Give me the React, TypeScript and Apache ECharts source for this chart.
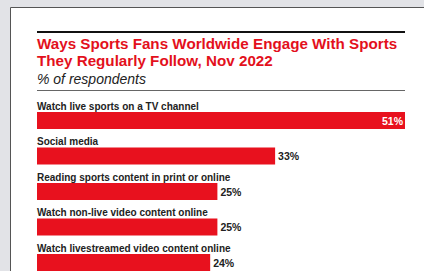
import React, { useEffect, useRef } from "react";
import * as echarts from "echarts";

const categories = [
  "Watch live sports on a TV channel",
  "Social media",
  "Reading sports content in print or online",
  "Watch non-live video content online",
  "Watch livestreamed video content online",
];
const values = [51, 33, 25, 25, 24];
const titleLines = [
  "Ways Sports Fans Worldwide Engage With Sports",
  "They Regularly Follow, Nov 2022",
];
const subtitle = "% of respondents";

const RED = "#e8111e";
const FONT = "Liberation Sans, Arial, sans-serif";

export default function App() {
  const ref = useRef<HTMLDivElement>(null);
  useEffect(() => {
    if (!ref.current) return;
    const chart = echarts.init(ref.current, undefined, { renderer: "svg" });
    chart.setOption({
      animation: false,
      backgroundColor: "#ffffff",
      grid: { left: 37, width: 368, top: 102.75, height: 177.5, containLabel: false },
      xAxis: { type: "value", min: 0, max: 51, show: false },
      yAxis: { type: "category", data: categories, inverse: true, show: false },
      graphic: [
        { type: "rect", shape: { x: 0, y: 0, width: 424, height: 7 }, style: { fill: "#e2e3e7" }, z: 10 },
        { type: "rect", shape: { x: 0, y: 0, width: 10, height: 320 }, style: { fill: "#e2e3e7" }, z: 10 },
        { type: "line", shape: { x1: 10.5, y1: 7.5, x2: 10.5, y2: 320 }, style: { stroke: "#555", lineWidth: 1 }, z: 11 },
        { type: "line", shape: { x1: 10.5, y1: 7.5, x2: 424, y2: 7.5 }, style: { stroke: "#555", lineWidth: 1 }, z: 11 },
        { type: "rect", shape: { x: 37, y: 31, width: 368, height: 2 }, style: { fill: "#111" }, z: 11 },
        { type: "line", shape: { x1: 37, y1: 90.5, x2: 405, y2: 90.5 }, style: { stroke: "#666", lineWidth: 1 }, z: 11 },
        {
          type: "text", x: 37, y: 43.5, z: 11,
          style: { text: titleLines[0], fill: "#e3101c", font: `bold 15.2px ${FONT}`, verticalAlign: "middle", align: "left" },
        },
        {
          type: "text", x: 37, y: 60, z: 11,
          style: { text: titleLines[1], fill: "#e3101c", font: `bold 15.2px ${FONT}`, verticalAlign: "middle", align: "left" },
        },
        {
          type: "text", x: 37, y: 78.5, z: 11,
          style: { text: subtitle, fill: "#222", font: `italic 14px ${FONT}`, verticalAlign: "middle", align: "left" },
        },
      ],
      series: [
        {
          type: "bar",
          data: values,
          barWidth: 17,
          itemStyle: { color: RED },
          label: {
            show: true,
            formatter: "{b}",
            position: [0, -1],
            align: "left",
            verticalAlign: "bottom",
            color: "#222",
            fontFamily: FONT,
            fontWeight: "bold",
            fontSize: 10,
          },
          z: 2,
        },
        {
          type: "bar",
          data: values.map((v, i) =>
            i === 0
              ? { value: v, label: { position: "insideRight", color: "#fff", distance: 2 } }
              : { value: v }
          ),
          barWidth: 17,
          barGap: "-100%",
          itemStyle: { color: "rgba(0,0,0,0)" },
          label: {
            show: true,
            formatter: "{c}%",
            position: "right",
            distance: 3,
            color: "#222",
            fontFamily: FONT,
            fontWeight: "bold",
            fontSize: 10.5,
          },
          z: 3,
        },
      ],
    });
    return () => chart.dispose();
  }, []);
  return <div ref={ref} style={{ position: "fixed", left: 0, top: 0, width: 424, height: 300 }} />;
}
